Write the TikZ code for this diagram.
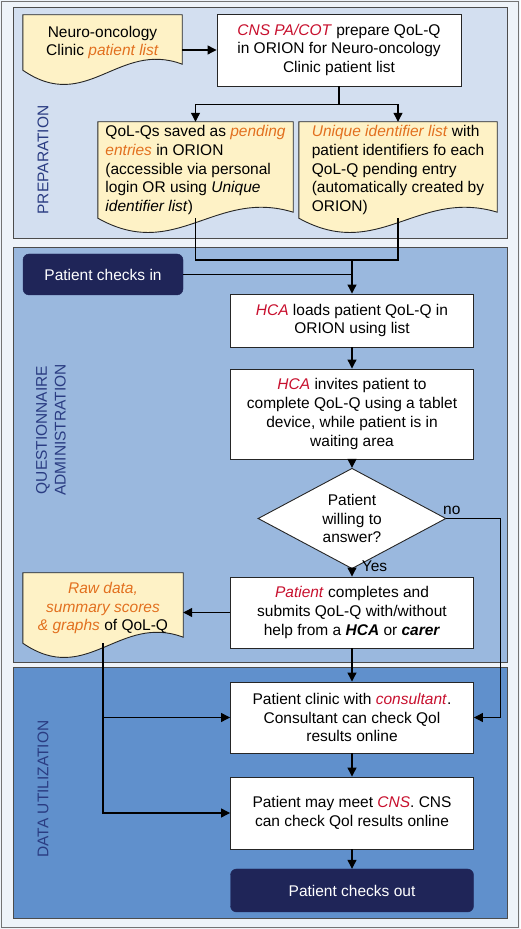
\documentclass[tikz,border=0pt]{standalone}
\usepackage{fontspec}
\setmainfont{Liberation Sans}
\usetikzlibrary{shapes.geometric,calc,arrows.meta}
\definecolor{outerbg}{HTML}{EEF3F9}
\definecolor{prepblue}{HTML}{D3DFF0}
\definecolor{questblue}{HTML}{9AB8DE}
\definecolor{datablue}{HTML}{6090CC}
\definecolor{docyellow}{HTML}{FEF2C6}
\definecolor{navy}{HTML}{1F2558}
\definecolor{labelblue}{HTML}{2A3C82}
\definecolor{hired}{HTML}{C8102E}
\definecolor{hiorange}{HTML}{E2701F}
\newcommand\hl[1]{\textcolor{hired}{\textit{#1}}}
\newcommand\dl[1]{\textcolor{hiorange}{\textit{#1}}}
\pgfdeclarelayer{bg}
\pgfsetlayers{bg,main}
\newcommand\docshape[1]{%
  \path[draw=black!85, line width=0.9, fill=docyellow] (#1.north west) -- (#1.south west)
    .. controls ($(#1.south west)!0.4!(#1.south east)+(0,-44)$) and ($(#1.south west)!0.6!(#1.south east)+(0,30)$) .. ($(#1.south east)+(0,6)$)
    -- (#1.north east) -- cycle;}

\begin{document}
\begin{tikzpicture}[x=1pt, y=1pt,
  every node/.style={font=\fontsize{15.5}{18.8}\selectfont},
  box/.style={draw=black!85, line width=0.9, fill=white, align=center, inner sep=0pt, minimum width=243},
  doc/.style={align=#1, inner sep=0pt},
  endbox/.style={draw=navy, fill=navy, text=white, rounded corners=6, inner sep=0pt},
  panel/.style={draw=black!70, line width=0.8},
  side/.style={rotate=90, text=labelblue, align=center},
  arr/.style={line width=1.2, -{Triangle[length=9pt, width=9pt]}},
  ln/.style={line width=1.2}]
\useasboundingbox (0,0) rectangle (520,929);
\begin{pgfonlayer}{bg}
  \fill[outerbg] (0,0) rectangle (520,929);
  \draw[black!55, line width=1] (1.5,1.5) rectangle (518.5,927.5);
  \draw[panel, fill=prepblue] (13,691) rectangle (507,922);
  \draw[panel, fill=questblue] (13,267) rectangle (507,682);
  \draw[panel, fill=datablue] (13,11) rectangle (507,262);
\end{pgfonlayer}

\node[side] (lprep) at (43,769) {PREPARATION};
\node[side] (lquest) at (51,499) {QUESTIONNAIRE\\ADMINISTRATION};
\node[side] (ldata) at (43,140) {DATA UTILIZATION};

\node[doc=center, minimum width=159, minimum height=55] (list) at (102.5,886.5) {Neuro-oncology\\Clinic \dl{patient list}};
\node[box, minimum width=244, minimum height=72] (prep) at (339,879) {\hl{CNS PA/COT} prepare QoL-Q\\in ORION for Neuro-oncology\\Clinic patient list};
\node[doc=left, minimum width=195, minimum height=96] (qol) at (195.5,759) {QoL-Qs saved as \dl{pending}\\\dl{entries} in ORION\\(accessible via personal\\login OR using \textit{Unique}\\\textit{identifier list})};
\node[doc=left, minimum width=198, minimum height=96] (uid) at (398,759) {\dl{Unique identifier list} with\\patient identifiers fo each\\QoL-Q pending entry\\(automatically created by\\ORION)};

\node[endbox, minimum width=160, minimum height=41] (checkin) at (103,654.5) {Patient checks in};
\node[box, minimum height=53] (load) at (352,608.5) {\hl{HCA} loads patient QoL-Q in\\ORION using list};
\node[box, minimum height=90] (invite) at (352,515) {\hl{HCA} invites patient to\\complete QoL-Q using a tablet\\device, while patient is in\\waiting area};
\node[diamond, draw=black!85, line width=0.9, fill=white, align=center, inner sep=-2pt, minimum width=188, minimum height=77] (willing) at (352,410.5) {Patient\\willing to\\answer?};
\node[box, minimum height=71] (complete) at (352,316.5) {\hl{Patient} completes and\\submits QoL-Q with/without\\help from a \textbf{\textit{HCA}} or \textbf{\textit{carer}}};
\node[doc=center, minimum width=160, minimum height=70] (raw) at (103,321) {\dl{Raw data,}\\\dl{summary scores}\\\dl{\& graphs} of QoL-Q};

\node[box, minimum height=71] (consult) at (352,211.5) {Patient clinic with \hl{consultant}.\\Consultant can check Qol\\results online};
\node[box, minimum height=72] (cns) at (352,116) {Patient may meet \hl{CNS}. CNS\\can check Qol results online};
\node[endbox, minimum width=243, minimum height=43] (checkout) at (352,38.5) {Patient checks out};

\begin{pgfonlayer}{bg}
  \docshape{list}
  \docshape{qol}
  \docshape{uid}
  \docshape{raw}
\end{pgfonlayer}

\coordinate (merge) at (352,669);
\draw[arr] (list.east |- prep.west) -- (prep.west);
\draw[arr] (prep.south) -- ++(0,-18) -| (qol.north);
\draw[arr] (prep.south) -- ++(0,-18) -| (uid.north);
\draw[ln] (qol.south) |- (merge) -| (uid.south);
\draw[ln] (checkin.east) -- (checkin.east -| merge);
\draw[arr] (merge) -- (load.north);
\draw[arr] (load) -- (invite);
\draw[arr] (invite) -- (willing);
\draw[arr] (willing.south) -- node[right, xshift=6pt, yshift=3pt, pos=0] {Yes} (complete.north);
\draw[arr] (willing.east) -- node[above, pos=.1] {no} ++(54,0) |- (consult.east);
\draw[arr] (complete.west) -- (complete.west -| raw.east);
\draw[arr] (complete) -- (consult);
\draw[arr] (raw.south) |- (consult.west);
\draw[arr] (raw.south) |- (cns.west);
\draw[arr] (consult) -- (cns);
\draw[arr] (cns) -- (checkout);
\end{tikzpicture}
\end{document}
